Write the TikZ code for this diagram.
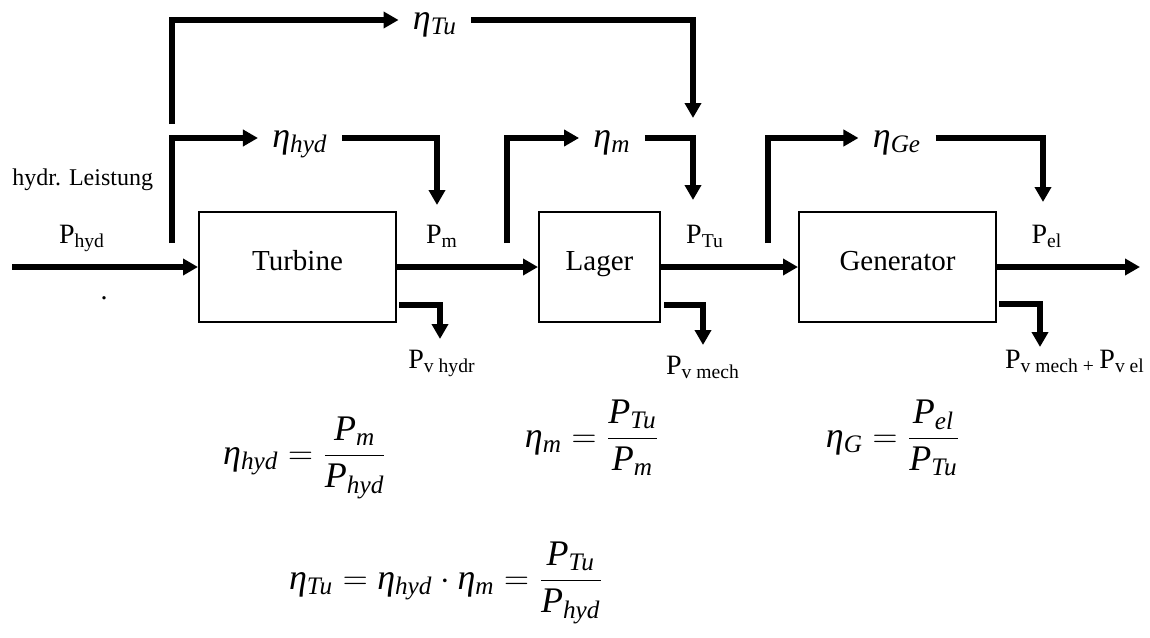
\documentclass[tikz,border=0pt]{standalone}
\usepackage{fontspec}
\setmainfont{Liberation Serif}
\usetikzlibrary{arrows.meta}

\newcommand\peta[1]{\textit{η}\textsubscript{\textit{#1}}}
\newcommand\pP[1]{\textit{P}\textsubscript{\textit{#1}}}

\tikzset{
  flow/.style={line width=2.6pt, -{Triangle[length=7.5pt,width=8pt]}},
  block/.style={draw, line width=1pt, minimum height=55pt, inner sep=0pt,
    text height=10pt, text depth=7pt, font=\fontsize{14.5}{17}\selectfont},
  plabel/.style={anchor=base, inner sep=0pt, font=\fontsize{14}{17}\selectfont},
  etalabel/.style={inner xsep=7pt, inner ysep=0pt, text height=12pt, text depth=3pt,
    font=\fontsize{18}{21}\selectfont},
  formula/.style={anchor=base, inner sep=0pt, font=\fontsize{18}{22}\selectfont},
}

\begin{document}
\begin{tikzpicture}[x=0.5pt, y=-0.5pt]
\useasboundingbox (0,0) rectangle (1150,637);
% blocks
\node[block, minimum width=98.5pt] (turb) at (297.5,267) {Turbine};
\node[block, minimum width=60.5pt] (lager) at (599.5,267) {Lager};
\node[block, minimum width=98.5pt] (gen) at (897.5,267) {Generator};
% main power flow
\coordinate (in) at (12,267);
\coordinate (out) at (1140,267);
\draw[flow] (in) -- (turb.west);
\draw[flow] (turb.east) -- (lager.west);
\draw[flow] (lager.east) -- (gen.west);
\draw[flow] (gen.east) -- (out);
% efficiencies
\node[etalabel] (etaTu) at (435,20) {\peta{Tu}};
\node[etalabel] (etaHyd) at (300,138) {\peta{hyd}};
\node[etalabel] (etaM) at (612,138) {\peta{m}};
\node[etalabel] (etaGe) at (897,138) {\peta{Ge}};
\coordinate (brTu) at (172,124);
\coordinate (brHyd) at (172,243);
\coordinate (brM) at (507,243);
\coordinate (brGe) at (768,243);
\coordinate (tipTu) at (693,118);
\coordinate (tipHyd) at (437,205);
\coordinate (tipM) at (693,200);
\coordinate (tipGe) at (1043,202);
\draw[flow] (brTu) |- (etaTu.west);
\draw[flow] (etaTu.east) -| (tipTu);
\draw[flow] (brHyd) |- (etaHyd.west);
\draw[flow] (etaHyd.east) -| (tipHyd);
\draw[flow] (brM) |- (etaM.west);
\draw[flow] (etaM.east) -| (tipM);
\draw[flow] (brGe) |- (etaGe.west);
\draw[flow] (etaGe.east) -| (tipGe);
% losses
\coordinate (lossT) at (440,339);
\coordinate (lossL) at (703,345);
\coordinate (lossG) at (1040,347);
\draw[flow] ([shift={(1pt,9pt)}]turb.south east) -| (lossT);
\draw[flow] ([shift={(1.5pt,9pt)}]lager.south east) -| (lossL);
\draw[flow] ([shift={(1pt,9.5pt)}]gen.south east) -| (lossG);
% power labels
\node[plabel, anchor=base west, font=\fontsize{12}{14}\selectfont] (title) at (12,185) {hydr. Leistung};
\node[plabel] (pHyd) at (82,243) {P\textsubscript{hyd}};
\node[plabel] (dot) at (104,299) {.};
\node[plabel] (pM) at (442,243) {P\textsubscript{m}};
\node[plabel] (pTu) at (705,243) {P\textsubscript{Tu}};
\node[plabel] (pEl) at (1047,243) {P\textsubscript{el}};
\node[plabel] (pvHydr) at (442,368) {P\textsubscript{v hydr}};
\node[plabel] (pvMech) at (703,374) {P\textsubscript{v mech}};
\node[plabel] (pvGen) at (1075,368) {P\textsubscript{v mech +}\,P\textsubscript{v el}};
% formulas
\node[formula] (eqHyd) at (305,464) {$\mbox{\peta{hyd}} = \displaystyle\frac{\mbox{\pP{m}}}{\mbox{\pP{hyd}}}$};
\node[formula] (eqM) at (592,447) {$\mbox{\peta{m}} = \displaystyle\frac{\mbox{\pP{Tu}}}{\mbox{\pP{m}}}$};
\node[formula] (eqGe) at (893,447) {$\mbox{\peta{G}} = \displaystyle\frac{\mbox{\pP{el}}}{\mbox{\pP{Tu}}}$};
\node[formula] (eqTu) at (446,589) {$\mbox{\peta{Tu}} = \mbox{\peta{hyd}}\cdot\mbox{\peta{m}} = \displaystyle\frac{\mbox{\pP{Tu}}}{\mbox{\pP{hyd}}}$};
\end{tikzpicture}
\end{document}
